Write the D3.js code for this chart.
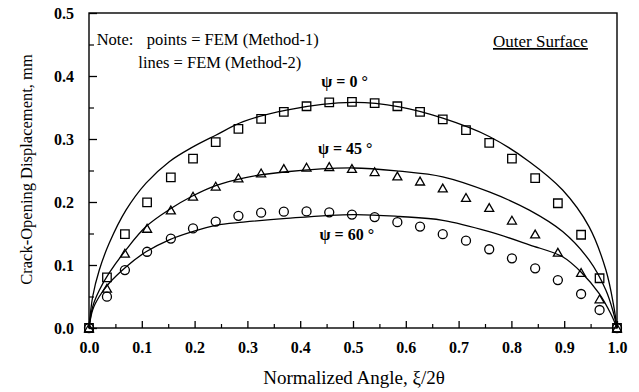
<!DOCTYPE html>
<html>
<head>
<meta charset="utf-8">
<script src="https://cdn.jsdelivr.net/npm/d3@7"></script>
<style>
  html, body { margin: 0; padding: 0; background: #fff; }
  svg { display: block; }
  text { font-family: "Liberation Serif", "Times New Roman", serif; fill: #000; }
</style>
</head>
<body>
<svg id="chart" width="639" height="392"></svg>
<script>
// Normalized angle positions of the FEM (Method-1) points
const pointX = [0, 0.034, 0.068, 0.110, 0.155, 0.197, 0.240, 0.283, 0.326, 0.369, 0.412, 0.455,
                0.498, 0.541, 0.584, 0.627, 0.670, 0.714, 0.758, 0.801, 0.845, 0.888, 0.932, 0.967, 1.0];

// Method-1 crack-opening displacement (mm)
const points0 = [0, 0.0805, 0.149, 0.1995, 0.239, 0.269, 0.295, 0.316, 0.332, 0.343, 0.352, 0.358,
                 0.359, 0.357, 0.352, 0.343, 0.331, 0.314, 0.294, 0.269, 0.238, 0.198, 0.148, 0.079, 0];
const points45 = [0, 0.063, 0.1185, 0.158, 0.187, 0.209, 0.225, 0.238, 0.246, 0.253, 0.255, 0.256,
                  0.253, 0.248, 0.241, 0.233, 0.222, 0.207, 0.191, 0.171, 0.149, 0.120, 0.088, 0.046, 0];
const points60 = [0, 0.0497, 0.092, 0.121, 0.142, 0.158, 0.169, 0.178, 0.183, 0.1846, 0.185, 0.1836,
                  0.180, 0.176, 0.168, 0.161, 0.149, 0.1386, 0.125, 0.1106, 0.0947, 0.076, 0.054, 0.0286, 0];

// Method-2 curves
const line0X = [0, 0.007, 0.0195, 0.038, 0.070, 0.108, 0.152, 0.196, 0.240, 0.292, 0.374, 0.500,
                0.588, 0.670, 0.758, 0.834, 0.897, 0.947, 0.979, 0.994, 1.0];
const line0Y = [0, 0.050, 0.092, 0.134, 0.187, 0.230, 0.264, 0.287, 0.306, 0.3275, 0.346, 0.358,
                0.351, 0.333, 0.304, 0.264, 0.219, 0.161, 0.092, 0.034, 0];

const line45X = [0, 0.007, 0.0195, 0.038, 0.070, 0.108, 0.152, 0.196, 0.240, 0.292, 0.374, 0.500,
                 0.588, 0.670, 0.758, 0.834, 0.897, 0.947, 0.979, 0.993, 1.0];
const line45Y = [0, 0.034, 0.060, 0.087, 0.124, 0.161, 0.188, 0.2095, 0.226, 0.238, 0.248, 0.254,
                 0.249, 0.240, 0.216, 0.187, 0.153, 0.108, 0.060, 0.025, 0];

const line60X = [0, 0.007, 0.0195, 0.038, 0.070, 0.108, 0.152, 0.196, 0.240, 0.292, 0.374, 0.500,
                 0.588, 0.670, 0.758, 0.834, 0.897, 0.934, 0.966, 0.988, 1.0];
const line60Y = [0, 0.029, 0.050, 0.071, 0.097, 0.121, 0.140, 0.153, 0.163, 0.168, 0.174, 0.180,
                 0.177, 0.171, 0.153, 0.132, 0.113, 0.087, 0.055, 0.023, 0];

const xTicks = [0, 0.1, 0.2, 0.3, 0.4, 0.5, 0.6, 0.7, 0.8, 0.9, 1.0];
const yTicks = [0, 0.1, 0.2, 0.3, 0.4, 0.5];

const curveLabels = ["ψ = 0 °", "ψ = 45 °", "ψ = 60 °"];

const svg = d3.select("#chart");
const m = { left: 89, top: 13, right: 22, bottom: 64 };
const W = 639 - m.left - m.right;
const H = 392 - m.top - m.bottom;

const x = d3.scaleLinear().domain([0, 1]).range([0, W]);
const y = d3.scaleLinear().domain([0, 0.5]).range([H, 0]);

const g = svg.append("g").attr("transform", `translate(${m.left},${m.top})`);

// Frame
g.append("rect").attr("x", 0).attr("y", 0).attr("width", W).attr("height", H)
  .attr("fill", "none").attr("stroke", "#000").attr("stroke-width", 1.4);

// Minor ticks (every 0.05) pointing inward
const xMinor = d3.range(0.05, 1, 0.1);
const yMinor = d3.range(0.05, 0.5, 0.1);

const xAxis = d3.axisBottom(x).tickValues(xTicks).tickFormat(d3.format(".1f"))
  .tickSizeInner(-7).tickSizeOuter(0).tickPadding(14);
const gx = g.append("g").attr("transform", `translate(0,${H})`).call(xAxis);
gx.select(".domain").remove();
gx.selectAll("line").attr("stroke-width", 1.3);
gx.selectAll("text").attr("font-size", 16).attr("font-weight", "bold")
  .attr("font-family", "Liberation Serif");

const xAxisMinor = d3.axisBottom(x).tickValues(xMinor).tickFormat("").tickSizeInner(-4).tickSizeOuter(0);
const gxm = g.append("g").attr("transform", `translate(0,${H})`).call(xAxisMinor);
gxm.select(".domain").remove();
gxm.selectAll("line").attr("stroke-width", 1.2);

const yAxis = d3.axisLeft(y).tickValues(yTicks).tickFormat(d3.format(".1f"))
  .tickSizeInner(-8).tickSizeOuter(0).tickPadding(15);
const gy = g.append("g").call(yAxis);
gy.select(".domain").remove();
gy.selectAll("line").attr("stroke-width", 1.3);
gy.selectAll("text").attr("font-size", 16).attr("font-weight", "bold")
  .attr("font-family", "Liberation Serif");

const yAxisMinor = d3.axisLeft(y).tickValues(yMinor).tickFormat("").tickSizeInner(-5).tickSizeOuter(0);
const gym = g.append("g").call(yAxisMinor);
gym.select(".domain").remove();
gym.selectAll("line").attr("stroke-width", 1.2);

// Method-2 lines
const lineGen = d3.line().x(d => x(d[0])).y(d => y(d[1])).curve(d3.curveCatmullRom.alpha(0.5));
const lines = [[line0X, line0Y], [line45X, line45Y], [line60X, line60Y]];
lines.forEach(([xs, ys]) => {
  g.append("path")
    .datum(xs.map((v, i) => [v, ys[i]]))
    .attr("d", lineGen)
    .attr("fill", "none").attr("stroke", "#000").attr("stroke-width", 1.3);
});

// Method-1 markers
function circlePath(s) {
  const p = d3.path();
  p.arc(0, 0, s / 2, 0, 2 * Math.PI);
  p.closePath();
  return p.toString();
}
const markerShapes = {
  square: s => `M${-s / 2},${-s / 2}h${s}v${s}h${-s}Z`,
  triangle: s => `M0,${-s * 0.45}L${s / 2},${s * 0.42}L${-s / 2},${s * 0.42}Z`,
  circle: circlePath
};
const series = [
  { vals: points0, shape: "square", size: 8.5 },
  { vals: points45, shape: "triangle", size: 9 },
  { vals: points60, shape: "circle", size: 9 }
];
series.forEach(s => {
  g.append("g").selectAll("path")
    .data(pointX.map((v, i) => [v, s.vals[i]]))
    .join("path")
    .attr("transform", d => `translate(${x(d[0])},${y(d[1])})`)
    .attr("d", markerShapes[s.shape](s.size))
    .attr("fill", "none").attr("stroke", "#000").attr("stroke-width", 1.3);
});

// Curve labels
const labelPos = [[0.44, 0.3825], [0.4335, 0.276], [0.4367, 0.1397]];
curveLabels.forEach((t, i) => {
  g.append("text").attr("x", x(labelPos[i][0])).attr("y", y(labelPos[i][1]))
    .attr("font-size", 16).attr("font-weight", "bold").text(t);
});

// Note
g.append("text").attr("x", 7.7).attr("y", 32).attr("font-size", 16.5).text("Note:");
g.append("text").attr("x", 57.7).attr("y", 32).attr("font-size", 16.5)
  .text("points = FEM (Method-1)");
g.append("text").attr("x", 49.3).attr("y", 55).attr("font-size", 16.5)
  .text("lines = FEM (Method-2)");

// Outer Surface label
g.append("text").attr("x", 404).attr("y", 34).attr("font-size", 17)
  .attr("text-decoration", "underline").text("Outer Surface");

// Axis titles
svg.append("text").attr("x", m.left + W / 2 + 1).attr("y", 384).attr("text-anchor", "middle")
  .attr("font-size", 19).text("Normalized Angle, ξ/2θ");
svg.append("text").attr("transform", `translate(32,${m.top + H / 2 - 1}) rotate(-90)`)
  .attr("text-anchor", "middle").attr("font-size", 16.5)
  .text("Crack-Opening Displacement, mm");
</script>
</body>
</html>
